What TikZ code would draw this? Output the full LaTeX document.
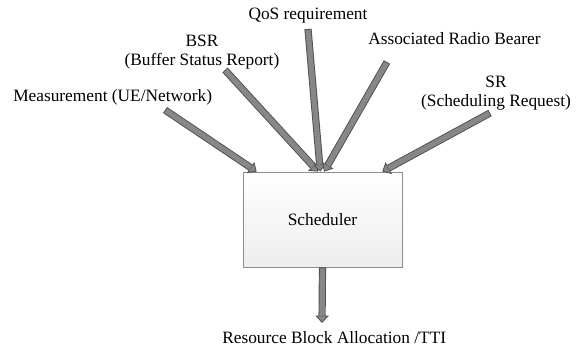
\documentclass[tikz,border=0pt]{standalone}
\usepackage{fontspec}
\setmainfont{Liberation Serif}
\usetikzlibrary{arrows.meta,calc}
\definecolor{arrowfill}{RGB}{135,135,135}
\definecolor{arrowedge}{RGB}{80,80,80}
\definecolor{boxedge}{RGB}{140,140,140}
\newcommand\blockarrow[2]{%
  \draw[arrowedge, line width=5.4pt, -{Triangle[width=10pt,length=5.5pt,fill=arrowfill,line width=0.6pt]}] (#1) -- (#2);
  \draw[arrowfill, line width=4pt, shorten >=5.2pt, shorten <=0.7pt] (#1) -- (#2);
}
\begin{document}
\begin{tikzpicture}[x=0.75pt, y=-0.75pt,
  font=\fontsize{13}{14.3}\selectfont,
  lbl/.style={inner sep=0pt},
  schbox/.style={draw=boxedge, line width=0.6pt, top color=white, bottom color=gray!14,
    minimum width=119.25pt, minimum height=71.25pt, inner sep=0pt}]
\useasboundingbox (0,0) rectangle (582,346);
% labels
\node[lbl, anchor=base west] (meas) at (13,102) {Measurement (UE/Network)};
\node[lbl, anchor=north, align=center] (bsr) at (202,34.5) {BSR\\(Buffer Status Report)};
\node[lbl, anchor=base] (qos) at (308,20) {QoS requirement};
\node[lbl, anchor=base west] (arb) at (368,45) {Associated Radio Bearer};
\node[lbl, anchor=north, align=center] (sr) at (496,75.5) {SR\\(Scheduling Request)};
\node[schbox] (sch) at (322.5,219.5) {Scheduler};
\node[lbl, anchor=base west] (rba) at (222,343) {Resource Block Allocation /TTI};
% arrow start points
\coordinate (sM) at (165,110);
\coordinate (sB) at (225,70);
\coordinate (sQ) at (308,29);
\coordinate (sA) at (387,62);
\coordinate (sS) at (490,113);
% arrow end points on the box top
\coordinate (eM) at ($(sch.north west)!0.088!(sch.north east)$);
\coordinate (eB) at ($(sch.north west)!0.472!(sch.north east)$);
\coordinate (eQ) at ($(sch.north west)!0.486!(sch.north east)$);
\coordinate (eA) at ($(sch.north west)!0.51!(sch.north east)$);
\coordinate (eS) at ($(sch.north west)!0.874!(sch.north east)$);
\coordinate (eR) at (322,323);
\blockarrow{sM}{eM}
\blockarrow{sB}{eB}
\blockarrow{sQ}{eQ}
\blockarrow{sA}{eA}
\blockarrow{sS}{eS}
\blockarrow{sch.south}{eR}
\end{tikzpicture}
\end{document}
